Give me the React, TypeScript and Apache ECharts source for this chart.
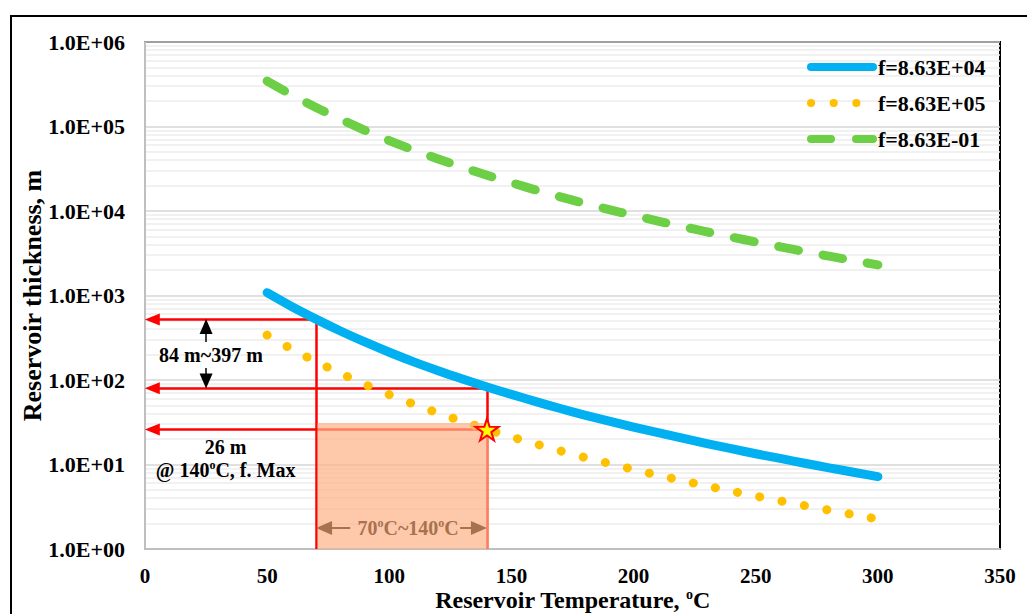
import React, { useEffect, useRef } from 'react';
import * as echarts from 'echarts';

// ---------------- data ----------------
const temperatures = [50, 60, 70, 80, 90, 100, 110, 120, 130, 140, 150, 160, 170, 180, 190, 200, 210, 220, 230, 240, 250, 260, 270, 280, 290, 300];
const seriesNames = ['f=8.63E+04', 'f=8.63E+05', 'f=8.63E-01'];
const thicknessF04 = [1080, 741, 525, 380, 282, 213, 164, 129, 103, 82.8, 67.5, 55.5, 46, 38.5, 32.6, 27.7, 23.8, 20.5, 17.7, 15.4, 13.4, 11.8, 10.35, 9.14, 8.09, 7.18];
const thicknessF05 = [340, 233, 165, 120, 88.7, 67.1, 51.8, 40.6, 32.4, 26.1, 21.2, 17.5, 14.5, 12.1, 10.3, 8.73, 7.48, 6.44, 5.57, 4.84, 4.23, 3.71, 3.26, 2.88, 2.55, 2.26];
const thicknessFm01 = [345000, 237000, 168000, 122000, 90200, 68200, 52600, 41300, 32900, 26500, 21600, 17700, 14700, 12300, 10400, 8870, 7600, 6550, 5660, 4920, 4300, 3770, 3310, 2920, 2590, 2300];

const xTickValues = [0, 50, 100, 150, 200, 250, 300, 350];
const yTickLabels = ['1.0E+00', '1.0E+01', '1.0E+02', '1.0E+03', '1.0E+04', '1.0E+05', '1.0E+06'];
const minorMultipliers = [2, 3, 4, 5, 6, 7, 8, 9];

// annotation values (data coordinates)
const rangeLow = 70;
const rangeHigh = 140;
const thickAt70 = 520;
const thickAt140 = 80;
const thickMax140 = 26;
const shadeTop = 31;
const arrowX = 25;
const rangeArrowY = 1.77;

const SERIF = '"Liberation Serif", "Times New Roman", serif';
const RED = '#FF0000';
const BROWN = '#A8714F';

function pairs(ys: number[]) {
  return temperatures.map((t, i) => [t, ys[i]]);
}

function minorValues() {
  const out: number[] = [];
  for (let e = 0; e < yTickLabels.length - 1; e++) {
    for (const m of minorMultipliers) out.push(m * Math.pow(10, e));
  }
  return out;
}

const boldText = (size: number, color = '#000') => ({
  fontSize: size,
  fontWeight: 'bold',
  fontFamily: SERIF,
  color,
});

export default function App() {
  const ref = useRef<HTMLDivElement>(null);

  useEffect(() => {
    if (!ref.current) return;
    const chart = echarts.init(ref.current, undefined, { renderer: 'svg' });

    const supRich = (size: number, color = '#000', lh = size + 2) => ({
      t: { ...boldText(size, color), lineHeight: lh },
      s: { ...boldText(Math.round(size * 0.6), color), verticalAlign: 'top', lineHeight: Math.round(size * 0.6) },
    });

    const redSeg = (a: number[], b: number[], arrow: boolean) => [
      { coord: a, symbol: 'none' },
      arrow ? { coord: b, symbol: 'triangle', symbolSize: [12, 15] } : { coord: b, symbol: 'none' },
    ];

    const option: any = {
      animation: false,
      backgroundColor: '#ffffff',
      grid: {
        left: 145,
        right: 27,
        top: 42,
        bottom: 65,
        show: true,
        borderColor: '#000',
        borderWidth: 2,
        backgroundColor: 'transparent',
        containLabel: false,
        outerBoundsMode: 'none',
      },
      legend: {
        data: seriesNames,
        orient: 'vertical',
        left: 802,
        top: 51,
        itemWidth: 62,
        itemHeight: 14,
        itemGap: 14,
        z: 10,
        textStyle: { ...boldText(22), lineHeight: 22 },
        lineStyle: { width: 8 },
        itemStyle: { opacity: 0 },
        selectedMode: false,
      },
      xAxis: {
        type: 'value',
        min: xTickValues[0],
        max: xTickValues[xTickValues.length - 1],
        interval: 50,
        axisLine: { show: true, onZero: false, lineStyle: { color: '#bfbfbf', width: 2 } },
        axisTick: { show: false },
        splitLine: { show: false },
        axisLabel: { ...boldText(21), lineHeight: 21, margin: 16 },
        name: '{t|Reservoir Temperature, }{s|o}{t|C}',
        nameLocation: 'middle',
        nameGap: 38,
        nameMoveOverlap: false,
        nameTextStyle: { rich: supRich(24, '#000', 25) },
      },
      yAxis: {
        type: 'log',
        logBase: 10,
        min: 1,
        max: 1e6,
        axisLine: { show: true, lineStyle: { color: '#bfbfbf', width: 2 } },
        axisTick: { show: false },
        splitLine: { show: true, lineStyle: { color: '#d6d6d6', width: 1.5 } },
        axisLabel: {
          ...boldText(22),
          margin: 20,
          formatter: (v: number) => yTickLabels[Math.round(Math.log10(v))] ?? '',
        },
        name: 'Reservoir thickness, m',
        nameLocation: 'middle',
        nameGap: 100,
        nameMoveOverlap: false,
        nameRotate: 90,
        nameTextStyle: boldText(26),
      },
      graphic: [
        {
          type: 'rect',
          silent: true,
          shape: { x: 11, y: 16, width: 1100, height: 700 },
          style: { fill: 'none', stroke: '#000', lineWidth: 2 },
          z: 100,
        },
      ],
      series: [
        {
          type: 'line',
          name: 'minor-grid',
          data: [],
          silent: true,
          z: 1,
          markLine: {
            silent: true,
            z: 0,
            symbol: ['none', 'none'],
            label: { show: false },
            lineStyle: { color: '#ececec', width: 1.5, type: 'solid' },
            data: minorValues().map((v) => ({ yAxis: v })),
          },
        },
        {
          type: 'line',
          name: 'red-lines',
          data: [],
          silent: true,
          z: 3,
          markLine: {
            silent: true,
            z: 3,
            label: { show: false },
            lineStyle: { color: RED, width: 2.5, type: 'solid' },
            data: [
              redSeg([rangeLow, thickAt70], [3, thickAt70], true),
              redSeg([rangeLow, thickAt70], [rangeLow, 1], false),
              redSeg([rangeHigh, thickAt140], [3, thickAt140], true),
              redSeg([rangeHigh, thickAt140], [rangeHigh, 1], false),
              redSeg([rangeHigh, thickMax140], [3, thickMax140], true),
            ],
          },
        },
        {
          type: 'line',
          name: seriesNames[0],
          data: pairs(thicknessF04),
          symbol: 'none',
          smooth: 0.3,
          z: 4,
          lineStyle: { color: '#00B0F0', width: 9, cap: 'round', join: 'round' },
          itemStyle: { color: '#00B0F0' },
        },
        {
          type: 'line',
          name: seriesNames[1],
          data: pairs(thicknessF05),
          symbol: 'none',
          smooth: 0.3,
          z: 4,
          lineStyle: { color: '#FFC000', width: 9, type: [0.1, 22.55], cap: 'round', join: 'round' },
          itemStyle: { color: '#FFC000' },
        },
        {
          type: 'line',
          name: seriesNames[2],
          data: pairs(thicknessFm01),
          symbol: 'none',
          smooth: 0.3,
          z: 4,
          lineStyle: { color: '#6DCF45', width: 9, type: [20, 25], cap: 'round', join: 'round' },
          itemStyle: { color: '#6DCF45' },
        },
        {
          type: 'line',
          name: 'shade',
          data: [],
          silent: true,
          z: 5,
          markArea: {
            silent: true,
            z: 5,
            itemStyle: { color: 'rgba(253,178,134,0.7)' },
            data: [[{ coord: [rangeLow + 0.6, 1] }, { coord: [rangeHigh + 0.8, shadeTop] }]],
          },
        },
        {
          type: 'line',
          name: 'annotations',
          data: [],
          silent: true,
          z: 6,
          markLine: {
            silent: true,
            z: 6,
            label: { show: false },
            data: [
              [
                { coord: [arrowX, 282], symbol: 'none', lineStyle: { color: '#000', width: 1.5, type: 'solid' } },
                { coord: [arrowX, 430], symbol: 'triangle', symbolSize: [13, 15] },
              ],
              [
                { coord: [arrowX, 139], symbol: 'none', lineStyle: { color: '#000', width: 1.5, type: 'solid' } },
                { coord: [arrowX, 97], symbol: 'triangle', symbolSize: [13, 15] },
              ],
              [
                { coord: [84, rangeArrowY], symbol: 'none', lineStyle: { color: BROWN, width: 2, type: 'solid' } },
                { coord: [rangeLow + 3.3, rangeArrowY], symbol: 'triangle', symbolSize: [14, 16] },
              ],
              [
                { coord: [129, rangeArrowY], symbol: 'none', lineStyle: { color: BROWN, width: 2, type: 'solid' } },
                { coord: [rangeHigh - 3.3, rangeArrowY], symbol: 'triangle', symbolSize: [14, 16] },
              ],
            ],
          },
          markPoint: {
            silent: true,
            z: 7,
            data: [
              {
                coord: [27, 198],
                symbol: 'circle',
                symbolSize: 0,
                label: { show: true, position: 'inside', formatter: '84 m~397 m', ...boldText(20) },
              },
              {
                coord: [33, 16],
                symbol: 'circle',
                symbolSize: 0,
                label: { show: true, position: 'inside', formatter: '26 m', ...boldText(20) },
              },
              {
                coord: [33, 8.6],
                symbol: 'circle',
                symbolSize: 0,
                label: {
                  show: true,
                  position: 'inside',
                  formatter: '{t|@ 140}{s|o}{t|C, f. Max}',
                  rich: supRich(20),
                },
              },
              {
                coord: [107.7, rangeArrowY],
                symbol: 'circle',
                symbolSize: 0,
                label: {
                  show: true,
                  position: 'inside',
                  formatter: '{t|70}{s|o}{t|C~140}{s|o}{t|C}',
                  rich: supRich(20, BROWN),
                },
              },
              {
                coord: [rangeHigh, thickMax140],
                symbol: 'path://M50,0 L61,35 L98,35 L68,57 L79,91 L50,70 L21,91 L32,57 L2,35 L39,35 Z',
                symbolSize: [23, 22],
                itemStyle: { color: '#FFFF00', borderColor: RED, borderWidth: 2 },
                label: { show: false },
              },
            ],
          },
        },
      ],
    };

    chart.setOption(option);
    return () => chart.dispose();
  }, []);

  return (
    <div
      ref={ref}
      style={{ position: 'fixed', left: 0, top: 0, width: 1027, height: 614, background: '#fff' }}
    />
  );
}
